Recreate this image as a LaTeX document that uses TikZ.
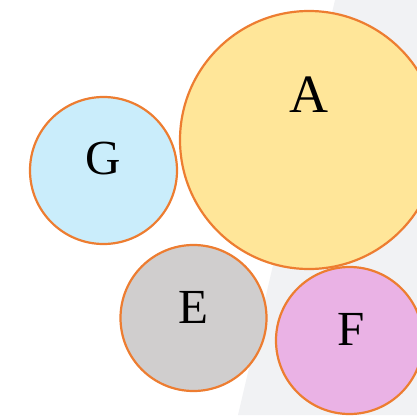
\documentclass[tikz,border=0pt]{standalone}
\usepackage{fontspec}
\setmainfont{Liberation Serif}
\definecolor{edgeorange}{HTML}{ED7D31}
\definecolor{paneback}{HTML}{F1F2F4}
\definecolor{fillA}{HTML}{FFE699}
\definecolor{fillG}{HTML}{CAEDFB}
\definecolor{fillE}{HTML}{D0CECE}
\definecolor{fillF}{HTML}{EAB2E5}
\tikzset{
	bubble/.style={circle, draw=edgeorange, line width=2.2pt, inner sep=0pt},
	tag/.style={inner sep=0pt, font=\fontsize{49}{49}\selectfont}
}
\begin{document}
\begin{tikzpicture}[x=1pt, y=-1pt]
	\useasboundingbox (0,0) rectangle (417,415);
	\clip (0,0) rectangle (417,415);
	% Back pane
	\fill[paneback] (335,0) -- (417,0) -- (417,415) -- (238,415) -- cycle;
	% Circles
	\node[bubble, fill=fillA, minimum size=258pt] (A) at (309,140) {};
	\node[bubble, fill=fillG, minimum size=147pt] (G) at (103.5,170.5) {};
	\node[bubble, fill=fillE, minimum size=146pt] (E) at (193.5,318) {};
	\node[bubble, fill=fillF, minimum size=147pt] (F) at (349.5,340.5) {};
	% Labels
	\node[tag, font=\fontsize{54}{54}\selectfont] (A-txt) at ([yshift=45pt]A.center) {A};
	\node[tag] (G-txt) at ([yshift=12pt]G.center) {G};
	\node[tag] (E-txt) at ([yshift=11pt]E.center) {E};
	\node[tag] (F-txt) at ([xshift=2pt, yshift=11pt]F.center) {F};
\end{tikzpicture}
\end{document}
